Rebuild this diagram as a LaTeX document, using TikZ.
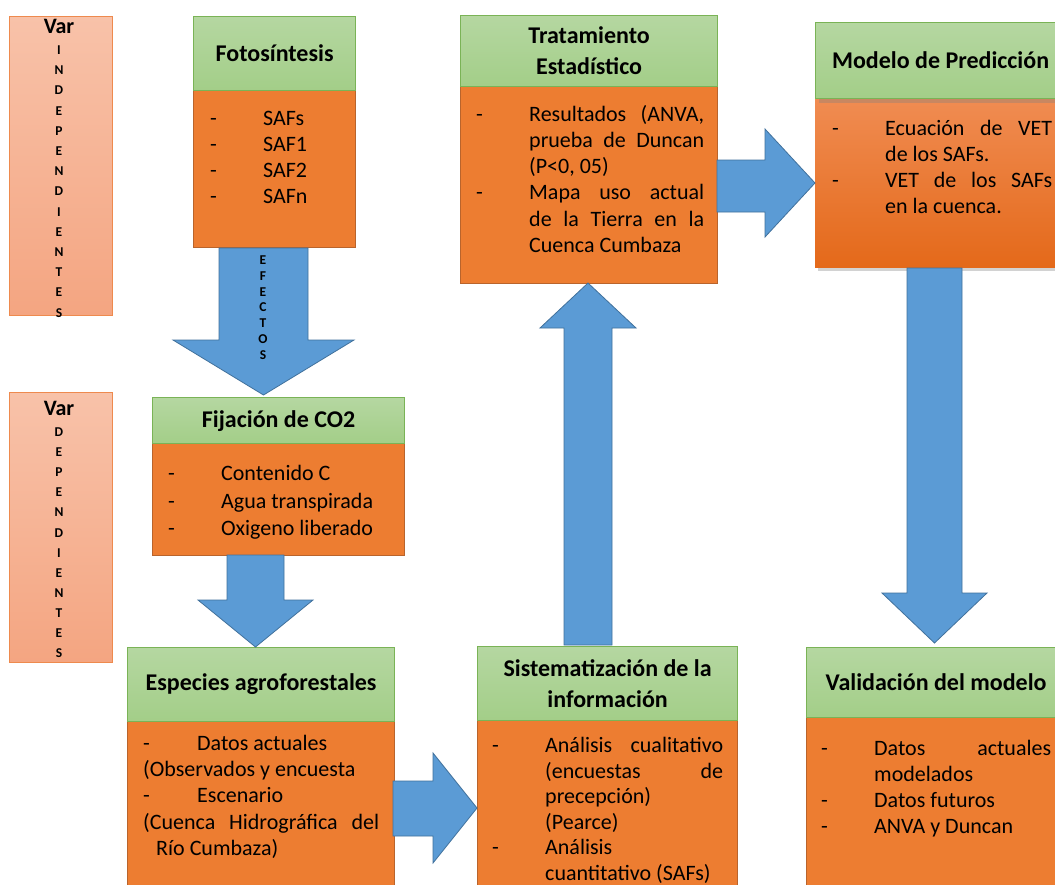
\documentclass[tikz,border=0pt]{standalone}
\usepackage{fontspec}
\setmainfont{Carlito}
\usetikzlibrary{shadows}
\definecolor{gTop}{HTML}{B5D7A1}
\definecolor{gBot}{HTML}{A3CE88}
\definecolor{gLine}{HTML}{7AB356}
\definecolor{oFill}{HTML}{ED7D31}
\definecolor{oLine}{HTML}{B9642C}
\definecolor{oTop}{HTML}{F08C52}
\definecolor{oBot}{HTML}{E4691A}
\definecolor{bFill}{HTML}{5B9BD5}
\definecolor{bLine}{HTML}{41719C}
\definecolor{pTop}{HTML}{F8C2A9}
\definecolor{pBot}{HTML}{F4A581}
\definecolor{pLine}{HTML}{EE8A4E}
\newdimen\hangw \hangw=53pt
\newcommand{\itm}[1]{\par\noindent\hangindent=\hangw\hangafter=1\relax\strut\makebox[\hangw][l]{-}#1\par}
\begin{document}
\hyphenpenalty=10000\relax
\exhyphenpenalty=10000\relax
\begin{tikzpicture}[x=1pt,y=-1pt,
 ttl/.style={draw=gLine,line width=1.2pt,top color=gTop,bottom color=gBot,anchor=north west,inner sep=0pt,align=center,font=\fontsize{24}{31}\selectfont\bfseries},
 bdy/.style={draw=oLine,line width=0.8pt,fill=oFill,anchor=north west,inner sep=0pt},
 bdyshade/.style={draw=none,top color=oTop,bottom color=oBot,anchor=north west,inner sep=0pt},
 btxt/.style={anchor=north west,inner sep=0pt,align=justify,font=\fontsize{22}{26.3}\selectfont},
 barbox/.style={draw=pLine,line width=1pt,top color=pTop,bottom color=pBot,anchor=north west,inner sep=0pt},
 vletter/.style={anchor=base,inner sep=0pt,font=\fontsize{13.5}{15}\selectfont\bfseries},
 varlbl/.style={anchor=base,inner sep=0pt,font=\fontsize{22}{24}\selectfont\bfseries},
 blk/.style={fill=bFill,draw=bLine,line width=0.8pt,line join=miter},
 shad/.style={drop shadow={shadow xshift=3pt,shadow yshift=-4pt,opacity=0.35}}]
\useasboundingbox (0,0) rectangle (1055,884);
\clip (0,0) rectangle (1055,884);
\fill[white] (0,0) rectangle (1055,884);

% variable bars
\node[barbox,minimum width=103pt,minimum height=299pt] (barI) at (9,16) {};
\node[barbox,minimum width=103pt,minimum height=270pt] (barD) at (9,392) {};
\node[varlbl] (varI) at (59,33) {Var};
\node[varlbl] (varD) at (59,415) {Var};
\foreach \l [count=\i from 0] in {I,N,D,E,P,E,N,D,I,E,N,T,E,S}
  \node[vletter] (li\i) at (59,54.5+20.2*\i) {\l};
\foreach \l [count=\i from 0] in {D,E,P,E,N,D,I,E,N,T,E,S}
  \node[vletter] (ld\i) at (59,436.5+20.1*\i) {\l};

% Fotosintesis
\node[bdy,minimum width=162pt,minimum height=157pt] (fotoB) at (193,90) {};
\node[ttl,minimum width=162pt,minimum height=74pt] (fotoT) at (193,16) {Fotosíntesis};
\node[btxt,text width=140pt] (fotoX) at (210,98.5) {\itm{SAFs}\itm{SAF1}\itm{SAF2}\itm{SAFn}};

% Fijacion
\node[bdy,minimum width=252pt,minimum height=112pt] (fijB) at (152,443) {};
\node[ttl,minimum width=252pt,minimum height=46pt] (fijT) at (152,397) {Fijación de CO2};
\node[btxt,text width=220pt,font=\fontsize{22}{27.5}\selectfont] (fijX) at (168,453) {\itm{Contenido C}\itm{Agua transpirada}\itm{Oxigeno liberado}};

% Especies
\node[bdy,minimum width=267pt,minimum height=170pt] (espB) at (127,721) {};
\node[ttl,minimum width=267pt,minimum height=74pt] (espT) at (127,647) {Especies agroforestales};
\node[btxt,text width=236pt] (espX) at (143,731.5) {\noindent\strut\makebox[54pt][l]{-}Datos actuales\newline(Observados y encuesta\par\noindent\strut\makebox[54pt][l]{-}Escenario\newline(Cuenca Hidrográfica del\linebreak\hspace*{13pt}Río Cumbaza)\par};

% Sistematizacion
\node[bdy,minimum width=260pt,minimum height=170pt] (sisB) at (477,720) {};
\node[ttl,minimum width=260pt,minimum height=74pt] (sisT) at (477,646) {Sistematización de la\\información};
\node[btxt,text width=231pt,font=\fontsize{22}{25.5}\selectfont] (sisX) at (492,727) {\itm{Análisis cualitativo\linebreak (encuestas de\linebreak precepción)\newline(Pearce)}\itm{Análisis\newline cuantitativo (SAFs)}};

% Tratamiento
\node[bdy,minimum width=257pt,minimum height=197pt] (traB) at (460,86) {};
\node[ttl,minimum width=257pt,minimum height=71pt] (traT) at (460,15) {Tratamiento\\Estadístico};
\node[btxt,text width=228pt] (traX) at (476,94.5) {\itm{Resultados (ANVA,\linebreak prueba de Duncan\linebreak (P<0, 05)}\itm{Mapa uso actual\linebreak de la Tierra en la\linebreak Cuenca Cumbaza}};

% Modelo
\node[bdyshade,shad,minimum width=250pt,minimum height=169pt] (modB) at (815,98) {};
\node[ttl,shad,minimum width=250pt,minimum height=76pt] (modT) at (815,22) {Modelo de Predicción};
\node[btxt,text width=220pt] (modX) at (832,108.5) {\itm{Ecuación de VET\linebreak de los SAFs.}\itm{VET de los SAFs\linebreak en la cuenca.}};

% Validacion
\node[bdy,minimum width=259pt,minimum height=170pt] (valB) at (806,717) {};
\node[ttl,minimum width=259pt,minimum height=70pt] (valT) at (806,647) {Validación del modelo};
\node[btxt,text width=230pt] (valX) at (821,728.5) {\itm{Datos actuales\linebreak modelados}\itm{Datos futuros}\itm{ANVA y Duncan}};

% block arrows
\draw[blk] (219,248) -- (308,248) -- (308,340) -- (354,340) -- (263.5,395) -- (173,340) -- (219,340) -- cycle;
\foreach \l [count=\i from 0] in {E,F,E,C,T,O,S}
  \node[vletter] (le\i) at (263,264.5+15.8*\i) {\l};
\draw[blk] (227,555) -- (284,555) -- (284,600) -- (313,600) -- (255.5,647) -- (198,600) -- (227,600) -- cycle;
\draw[blk] (393,781) -- (433,781) -- (433,753) -- (477,808) -- (433,863) -- (433,836) -- (393,836) -- cycle;
\draw[blk] (564,645) -- (564,328) -- (540,328) -- (588,283) -- (636,328) -- (612,328) -- (612,645) -- cycle;
\draw[blk] (717,160) -- (765,160) -- (765,129) -- (815,183) -- (765,237) -- (765,212) -- (717,212) -- cycle;
\draw[blk] (907,268) -- (962,268) -- (962,593) -- (987,593) -- (934.5,643) -- (882,593) -- (907,593) -- cycle;
\end{tikzpicture}
\end{document}
